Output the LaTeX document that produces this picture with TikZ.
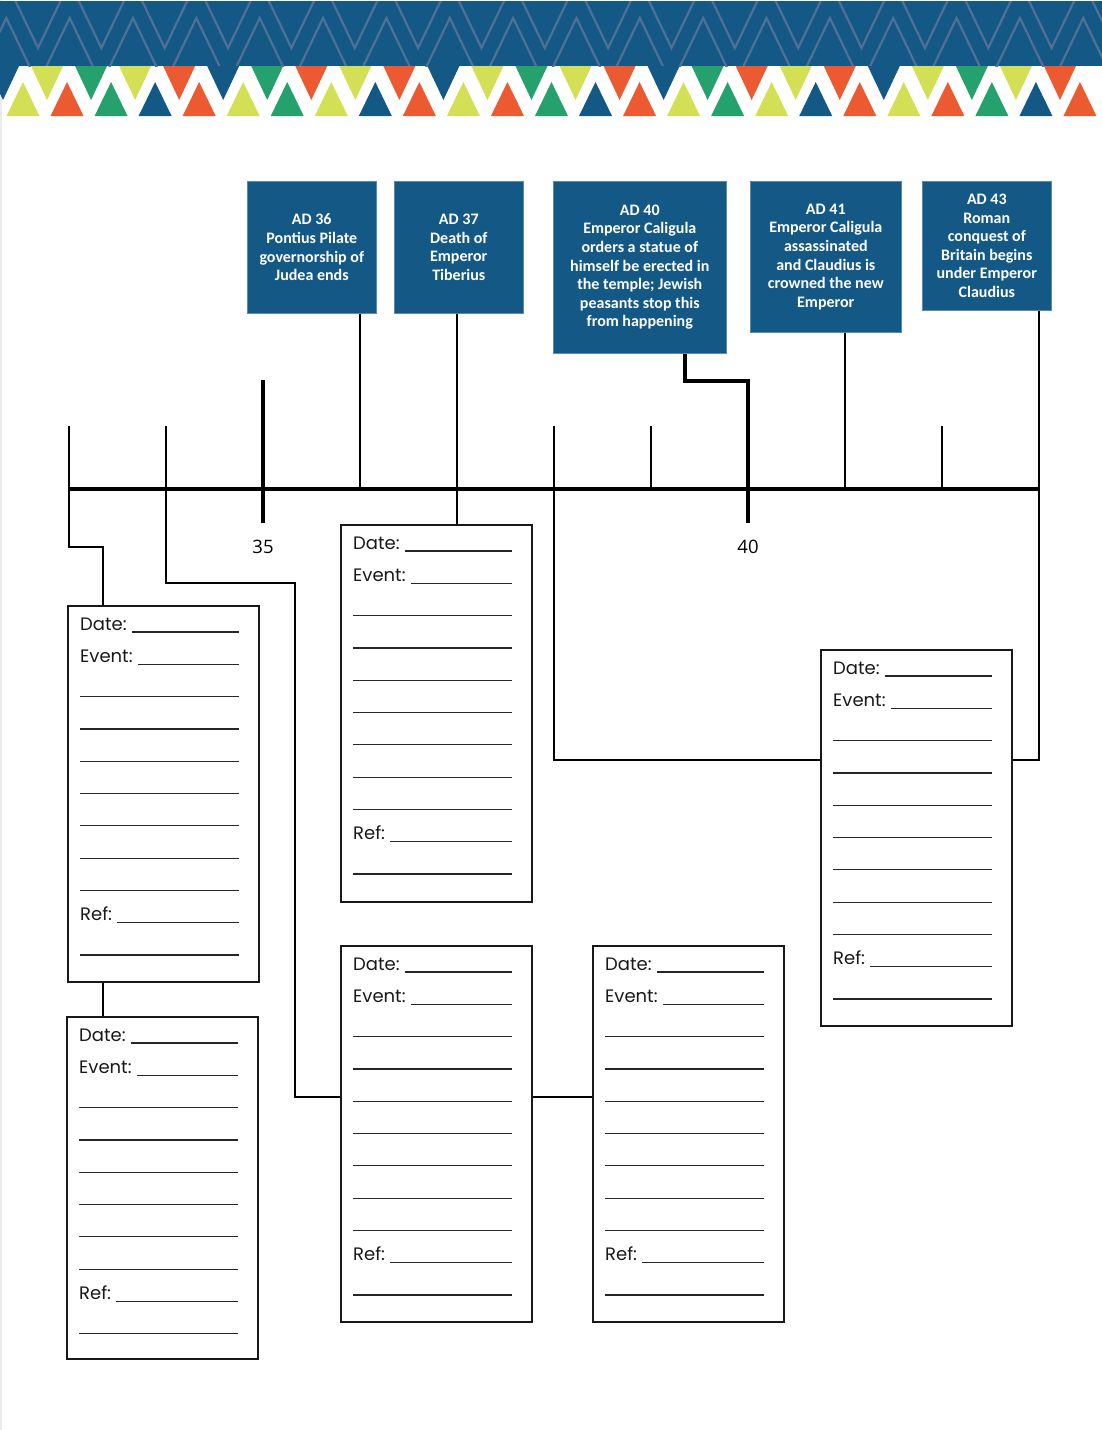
\documentclass[tikz,border=0pt]{standalone}
\usepackage{fontspec}
\usetikzlibrary{calc}
\newfontfamily\cfont{Carlito}
\newfontfamily\pfont{Poppins}
\newfontfamily\ofont{Open Sans}
\definecolor{hBl}{RGB}{20,89,133}
\definecolor{hOr}{RGB}{236,90,50}
\definecolor{hYe}{RGB}{211,224,85}
\definecolor{hGr}{RGB}{37,161,110}
\definecolor{hZz}{RGB}{80,112,150}
\tikzset{
  x=1pt, y=-1pt,
  bluebox/.style={draw=hBl!70!white, line width=0.6pt, fill=hBl, text=white, align=center,
    font=\cfont\bfseries\fontsize{16}{18.6}\selectfont, anchor=north west, inner sep=0pt},
  evframe/.style={draw=black!90, line width=2pt, fill=white, minimum width=191pt,
    anchor=north west, inner sep=0pt},
  evtext/.style={anchor=base west, inner sep=0pt, font=\pfont\fontsize{18}{20}\selectfont, text=black!90},
  uline/.style={line width=1.2pt, black!85},
  conn/.style={line width=1.8pt, black},
  thickconn/.style={line width=3.4pt, black},
  zz/.style={line width=2.2pt, hZz},
  yearlbl/.style={font=\ofont\fontsize{18.5}{20}\selectfont, inner sep=0pt},
}
\newcommand\evbox[5]{%
  \node[evframe, minimum height=#4pt] (#1) at (#2,#3) {};
  \node[evtext] (#1-d) at (#2+13,#3+25) {Date:};
  \draw[uline] (#1-d.base east) ++(5,2) -- (#2+172,#3+27);
  \node[evtext] (#1-e) at (#2+13,{#3+25+32.3}) {Event:};
  \draw[uline] (#1-e.base east) ++(5,2) -- (#2+172,{#3+27+32.3});
  \foreach \j in {1,...,#5} \draw[uline] (#2+13,{#3+27+32.3*(\j+1)}) -- (#2+172,{#3+27+32.3*(\j+1)});
  \node[evtext] (#1-r) at (#2+13,{#3+25+32.3*(#5+2)}) {Ref:};
  \draw[uline] (#1-r.base east) ++(5,2) -- (#2+172,{#3+27+32.3*(#5+2)});
  \draw[uline] (#2+13,{#3+27+32.3*(#5+3)}) -- (#2+172,{#3+27+32.3*(#5+3)});
}
\begin{document}
\begin{tikzpicture}
\useasboundingbox[fill=white] (0,0) rectangle (1102,1430);
\fill[black!8] (0,0) rectangle (2,1430);
% header band
\fill[hBl] (0,1) rectangle (1102,66);
\begin{scope}
  \clip (0,1) rectangle (1102,66);
  \draw[zz] (-25.35,48) \foreach \k in {0,...,17} { -- ({6.325+63.35*\k},-18) -- ({38+63.35*\k},48) };
  \draw[zz] (-25.35,84) \foreach \k in {0,...,17} { -- ({6.325+63.35*\k},18) -- ({38+63.35*\k},84) };
\end{scope}
\foreach \c [count=\i from -1] in {hOr,hBl,hYe,hGr,hYe,hOr,hBl,hGr,hOr,hYe,hOr,hBl,hYe,hGr,hYe,hOr,hBl,hGr,hOr,hYe,hOr,hBl,hYe,hGr,hYe,hOr}
  \fill[\c] ({3+44.04*\i-16},66) -- ({3+44.04*\i+16},66) -- ({3+44.04*\i},100) -- cycle;
\foreach \c [count=\i from 0] in {hYe,hOr,hGr,hBl,hOr,hYe,hGr,hYe,hBl,hOr,hYe,hOr,hGr,hBl,hOr,hYe,hGr,hYe,hBl,hOr,hYe,hOr,hGr,hBl,hOr}
  \fill[\c] ({23+44.04*\i-16.5},116) -- ({23+44.04*\i+16.5},116) -- ({23+44.04*\i},82) -- cycle;

% blue event boxes
\node[bluebox, minimum width=129pt, minimum height=132pt] (b36) at (247,181) {AD 36\\Pontius Pilate\\governorship of\\Judea ends};
\node[bluebox, minimum width=129pt, minimum height=132pt] (b37) at (394,181) {AD 37\\Death of\\Emperor\\Tiberius};
\node[bluebox, minimum width=173pt, minimum height=172pt] (b40) at (553,181) {AD 40\\Emperor Caligula\\orders a statue of\\himself be erected in\\the temple; Jewish\\peasants stop this\\from happening};
\node[bluebox, minimum width=151pt, minimum height=151pt] (b41) at (750,181) {AD 41\\Emperor Caligula\\assassinated\\and Claudius is\\crowned the new\\Emperor};
\node[bluebox, minimum width=129pt, minimum height=129pt] (b43) at (922,181) {AD 43\\Roman\\conquest of\\Britain begins\\under Emperor\\Claudius};

% timeline coordinates
\foreach \k in {33,...,43} \coordinate (y\k) at ({69+97*(\k-33)},489);

% event box outlines (named, for connectors)
\node[evframe, minimum height=376pt, draw=none, fill=none] (evA) at (67,605) {};
\node[evframe, minimum height=377pt, draw=none, fill=none] (evB) at (340,524) {};
\node[evframe, minimum height=376pt, draw=none, fill=none] (evC) at (820,649) {};
\node[evframe, minimum height=342pt, draw=none, fill=none] (evD) at (66,1016) {};
\node[evframe, minimum height=376pt, draw=none, fill=none] (evE) at (340,945) {};
\node[evframe, minimum height=376pt, draw=none, fill=none] (evF) at (592,945) {};

% connectors
\draw[conn] (y33 |- 0,426) -- (y33) |- (103,547) -- (103,0 |- evA.north);
\draw[conn] (103,0 |- evA.south) -- (103,0 |- evD.north);
\draw[conn] (y34 |- 0,426) -- (y34) |- (295,583) |- (evE.west |- 0,1097);
\draw[thickconn] (y35 |- 0,380) -- (y35 |- 0,523);
\draw[conn] (y36 |- b36.south) -- (y36);
\draw[conn] (y37 |- b37.south) -- (y37 |- evB.north);
\draw[conn] (y38 |- 0,426) -- (y38) |- (evC.west |- 0,760);
\draw[conn] (y39 |- 0,426) -- (y39);
\draw[thickconn] (685,0 |- b40.south) |- (y40 |- 0,381) -- (y40 |- 0,523);
\draw[conn] (y41 |- b41.south) -- (y41);
\draw[conn] (y42 |- 0,426) -- (y42);
\draw[conn] (y43 |- b43.south) |- (evC.east |- 0,760);
\draw[conn] (evE.east |- 0,1097) -- (evF.west |- 0,1097);
\draw[line width=3.5pt] (y33) -- (y43);

\node[yearlbl] (l35) at (263,547) {35};
\node[yearlbl] (l40) at (748,547) {40};

% event boxes
\evbox{fA}{67}{605}{376}{7}
\evbox{fB}{340}{524}{377}{7}
\evbox{fC}{820}{649}{376}{7}
\evbox{fD}{66}{1016}{342}{6}
\evbox{fE}{340}{945}{376}{7}
\evbox{fF}{592}{945}{376}{7}
\end{tikzpicture}
\end{document}
